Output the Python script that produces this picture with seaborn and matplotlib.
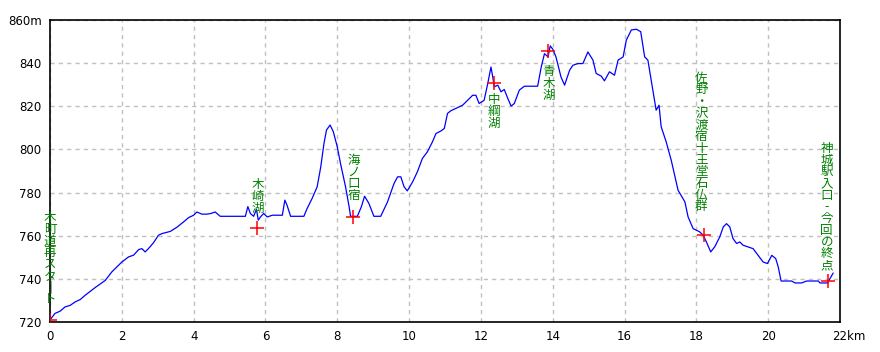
import matplotlib
matplotlib.use("Agg")
import matplotlib.pyplot as plt
import matplotlib.transforms as mtransforms
import seaborn as sns
import pandas as pd

# ---- data ----
dist_km = [0.00, 0.14, 0.28, 0.42, 0.56, 0.70, 0.84, 0.98, 1.26, 1.54, 1.72, 2.00, 2.19, 2.33,
           2.47, 2.56, 2.65, 2.74, 2.88, 3.02, 3.12, 3.35, 3.54, 3.72, 3.86, 4.00, 4.09, 4.23,
           4.37, 4.48, 4.60, 4.74, 4.88, 5.44, 5.51, 5.58, 5.67, 5.75, 5.80, 5.86, 5.95, 6.05,
           6.19, 6.47, 6.54, 6.60, 6.70, 7.07, 7.16, 7.30, 7.44, 7.54, 7.63, 7.70, 7.80, 7.89,
           8.00, 8.09, 8.23, 8.33, 8.37, 8.56, 8.67, 8.76, 8.88, 9.02, 9.21, 9.40, 9.58, 9.68,
           9.77, 9.86, 9.95, 10.10, 10.23, 10.37, 10.51, 10.65, 10.75, 10.88, 10.98, 11.07,
           11.16, 11.49, 11.63, 11.77, 11.86, 11.95, 12.09, 12.19, 12.28, 12.33, 12.37, 12.47,
           12.56, 12.65, 12.75, 12.84, 12.93, 13.07, 13.21, 13.58, 13.68, 13.77, 13.87, 13.93,
           14.00, 14.09, 14.23, 14.33, 14.47, 14.56, 14.70, 14.84, 14.98, 15.12, 15.21, 15.35,
           15.44, 15.58, 15.72, 15.82, 15.96, 16.05, 16.19, 16.33, 16.45, 16.56, 16.65, 16.75,
           16.88, 16.96, 17.02, 17.16, 17.30, 17.49, 17.68, 17.77, 17.91, 18.09, 18.19, 18.28,
           18.40, 18.51, 18.65, 18.75, 18.84, 18.93, 19.02, 19.12, 19.21, 19.30, 19.44, 19.58,
           19.72, 19.86, 19.98, 20.10, 20.21, 20.28, 20.36, 20.65, 20.75, 20.93, 21.07, 21.40,
           21.44, 21.66, 21.72, 21.81]
elev_m = [721, 724, 725, 727, 727.7, 729.3, 730.4, 732.4, 736, 739.3, 743.2, 747.8, 750.2, 751,
          753.6, 754, 752.5, 754, 756.7, 760.2, 761, 762, 764, 766.4, 768.4, 769.5, 771, 770,
          770, 770.3, 771, 769, 769, 769, 773.5, 770.3, 769, 772.2, 767.2, 768.7, 770.3, 768.7,
          769.5, 769.5, 776.5, 774.2, 769, 769, 772.6, 777.3, 782.7, 791.9, 802.8, 809, 811.3, 808.2,
          801.2, 793.5, 782.7, 773.4, 769, 769, 773.4, 778.3, 775, 769, 769, 775.7, 784.2, 787.3,
          787.3, 782.7, 780.8, 785, 789.6, 795.8, 798.9, 803.5, 807.4, 808.5, 809.7, 816.7,
          817.9, 820.5, 822.8, 825.1, 825.1, 821.3, 822.8, 830.5, 838.2, 833.6, 829, 829.8,
          826.7, 827.8, 823.6, 820.1, 821.3, 827.5, 829.3, 829.3, 838.2, 844.4, 842.9, 848,
          846.5, 842.9, 833.6, 829.8, 836.7, 839, 839.8, 839.8, 845.2, 841.4, 835.2, 834,
          831.8, 836, 834.4, 841.4, 842.9, 850.7, 855.4, 855.7, 854.6, 842.9, 841.4, 831.4,
          818.2, 820.5, 810.5, 803.5, 795, 781.1, 775.7, 768.7, 763.3, 761.8, 760.2, 757.1,
          752.5, 754.8, 759.4, 764.1, 765.6, 764.1, 758.7, 756.4, 757.1, 755.6, 754.8, 754,
          750.9, 747.8, 747.1, 750.9, 749.4, 745.5, 739, 739, 738.1, 738.1, 739, 739,
          738.1, 738.1, 740.1, 742.7]

marker_km = [0.0, 5.77, 8.45, 12.37, 13.88, 18.21, 21.66]
marker_m = [720.8, 763.6, 768.7, 831.0, 845.6, 760.2, 738.8]

label_texts = ["木町道再スタ｜ト", "木崎湖", "海ノ口宿", "中綱湖", "青木湖",
               "佐野・沢渡宿十王堂石仏群", "神城駅入口-今回の終点"]
label_km = [0.0, 5.78, 8.46, 12.37, 13.88, 18.14, 21.63]
label_top_m = [771.4, 786.7, 798.0, 826.0, 839.0, 836.0, 803.5]

x_ticks = [0, 2, 4, 6, 8, 10, 12, 14, 16, 18, 20, 22]
x_ticklabels = ["0", "2", "4", "6", "8", "10", "12", "14", "16", "18", "20", "22km"]
y_ticks = [720, 740, 760, 780, 800, 820, 840, 860]
y_ticklabels = ["720", "740", "760", "780", "800", "820", "840", "860m"]

# ---- plot ----
sns.set_style("white")
plt.rcParams['font.family'] = ['DejaVu Sans', 'Noto Sans CJK JP']

fig = plt.figure(figsize=(8.8, 3.52), dpi=100)
ax = fig.add_axes([50/880, 30/352, 790/880, 302/352])

df = pd.DataFrame({"km": dist_km, "m": elev_m})
sns.lineplot(data=df, x="km", y="m", ax=ax, color="#0000ff", lw=0.9, sort=False, zorder=3)
sns.scatterplot(x=marker_km, y=marker_m, ax=ax, marker="+", s=110, color="#ff0000",
                linewidth=1.1, zorder=4)

for t, xk, ym in zip(label_texts, label_km, label_top_m):
    ax.text(xk, ym, "\n".join(list(t)), ha="center", va="top", color="#008000",
            fontsize=9, family=['Noto Sans CJK JP', 'DejaVu Sans'], linespacing=0.87,
            zorder=5)

ax.set_xlim(0, 22)
ax.set_ylim(720, 860)
ax.set_xticks(x_ticks)
ax.set_xticklabels(x_ticklabels)
ax.set_yticks(y_ticks)
ax.set_yticklabels(y_ticklabels)
ax.set_xlabel("")
ax.set_ylabel("")
ax.grid(True, color="#c0c0c0", linestyle=(0, (3, 3)), linewidth=1.0)
ax.set_axisbelow(True)
for s in ax.spines.values():
    s.set_color("black")
    s.set_linewidth(1.2)
ax.tick_params(axis="both", length=0, labelsize=8.5, colors="black", pad=6)

lab = ax.get_xticklabels()[-1]
lab.set_horizontalalignment("left")
lab.set_transform(lab.get_transform() + mtransforms.ScaledTranslation(-8/100, 0, fig.dpi_scale_trans))

fig.savefig("out.png", dpi=100)
